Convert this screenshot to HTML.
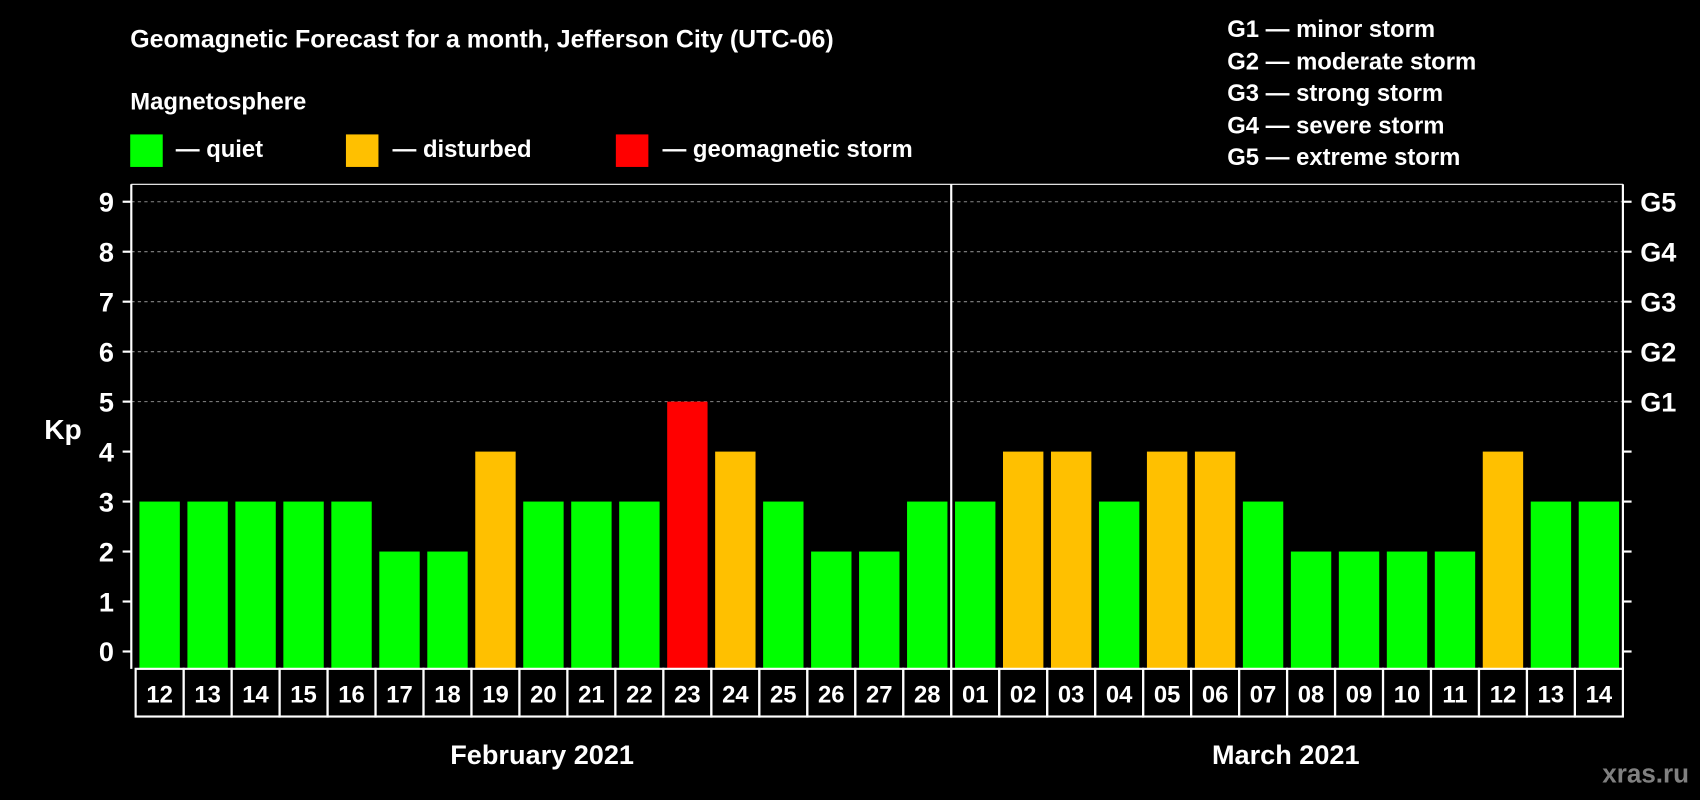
<!DOCTYPE html>
<html><head><meta charset="utf-8"><style>
html,body{margin:0;padding:0;background:#000;width:1700px;height:800px;overflow:hidden}
svg{display:block;font-family:"Liberation Sans",Arial,sans-serif;font-weight:bold}
</style></head><body>
<svg id="chart" width="1700" height="800" viewBox="0 0 1568 738" xmlns="http://www.w3.org/2000/svg">
<rect width="1568" height="738" fill="#000"/>
<text x="120" y="44" fill="#fff" font-size="23">Geomagnetic Forecast for a month, Jefferson City (UTC-06)</text>
<text x="120" y="101" fill="#fff" font-size="22">Magnetosphere</text>
<g font-size="22" fill="#fff">
<rect x="120" y="124" width="30" height="30" fill="#00ff00"/>
<text x="162" y="145">— quiet</text>
<rect x="319" y="124" width="30" height="30" fill="#ffc000"/>
<text x="362" y="145">— disturbed</text>
<rect x="568" y="124" width="30" height="30" fill="#ff0000"/>
<text x="611" y="145">— geomagnetic storm</text>
</g>
<g font-size="22" fill="#fff">
<text x="1132" y="34">G1 — minor storm</text>
<text x="1132" y="64">G2 — moderate storm</text>
<text x="1132" y="93">G3 — strong storm</text>
<text x="1132" y="123">G4 — severe storm</text>
<text x="1132" y="152">G5 — extreme storm</text>
</g>
<text x="58" y="405" fill="#fff" font-size="26" text-anchor="middle">Kp</text>
<text x="500" y="705" fill="#fff" font-size="25" text-anchor="middle">February 2021</text>
<text x="1186" y="705" fill="#fff" font-size="25" text-anchor="middle">March 2021</text>
<text x="1558" y="722" fill="#808080" font-size="24" text-anchor="end">xras.ru</text>
<g id="plot"></g>
</svg>
<script>
const days = ["12","13","14","15","16","17","18","19","20","21","22","23","24","25","26","27","28","01","02","03","04","05","06","07","08","09","10","11","12","13","14"];
const kpValues = [3,3,3,3,3,2,2,4,3,3,3,5,4,3,2,2,3,3,4,4,3,4,4,3,2,2,2,2,4,3,3];
const yTicks = [0,1,2,3,4,5,6,7,8,9];
const gLabels = ["G1","G2","G3","G4","G5"];
const NS="http://www.w3.org/2000/svg";
const plot=document.getElementById('plot');
const X0=125, X1=1497, Y0=601, YK=46.1, BT=617, BB=661;
const dw=(X1-X0)/days.length;
const y=v=>Y0-v*YK;
const x=i=>X0+i*dw;
function mk(tag,attrs){const e=document.createElementNS(NS,tag);for(const k in attrs)e.setAttribute(k,attrs[k]);plot.appendChild(e);return e;}
// gridlines
yTicks.forEach(t=>{ if(t>=5){const g=mk('line',{x1:121,x2:1497,y1:y(t),y2:y(t),stroke:'#888','stroke-dasharray':'3,3','stroke-width':1});

}});
// bars
kpValues.forEach((v,i)=>{
 const c=v>=5?'#ff0000':(v>=4?'#ffc000':'#00ff00');
 const r=mk('rect',{x:x(i)+3.5,y:y(v),width:dw-7,height:BT-y(v),fill:c});
 
 
 const b=mk('rect',{x:x(i),y:BT,width:dw,height:BB-BT,fill:'none',stroke:'#fff','stroke-width':2});
 
 
 const t=mk('text',{x:x(i)+dw/2,y:648,fill:'#fff','font-size':22,'text-anchor':'middle'});
 t.textContent=days[i];
 
 
});
// axes
const la=mk('line',{x1:121,x2:121,y1:170,y2:BT,stroke:'#fff','stroke-width':2});


const ra=mk('line',{x1:1497,x2:1497,y1:170,y2:BT,stroke:'#fff','stroke-width':2});


const ta=mk('line',{x1:121,x2:1497,y1:170,y2:170,stroke:'#fff','stroke-width':1});


const dv=mk('line',{x1:x(17),x2:x(17),y1:170,y2:BT,stroke:'#fff','stroke-width':2});


yTicks.forEach(t=>{
 mk('line',{x1:113,x2:121,y1:y(t),y2:y(t),stroke:'#fff','stroke-width':2});
 mk('line',{x1:1497,x2:1505,y1:y(t),y2:y(t),stroke:'#fff','stroke-width':2});
 const l=mk('text',{x:105,y:y(t)+9,fill:'#fff','font-size':25,'text-anchor':'end'});
 l.textContent=t;
 
 
});
gLabels.forEach((g,i)=>{
 const l=mk('text',{x:1513,y:y(i+5)+9,fill:'#fff','font-size':25});
 l.textContent=g;
 
 
});
</script>
</body></html>
